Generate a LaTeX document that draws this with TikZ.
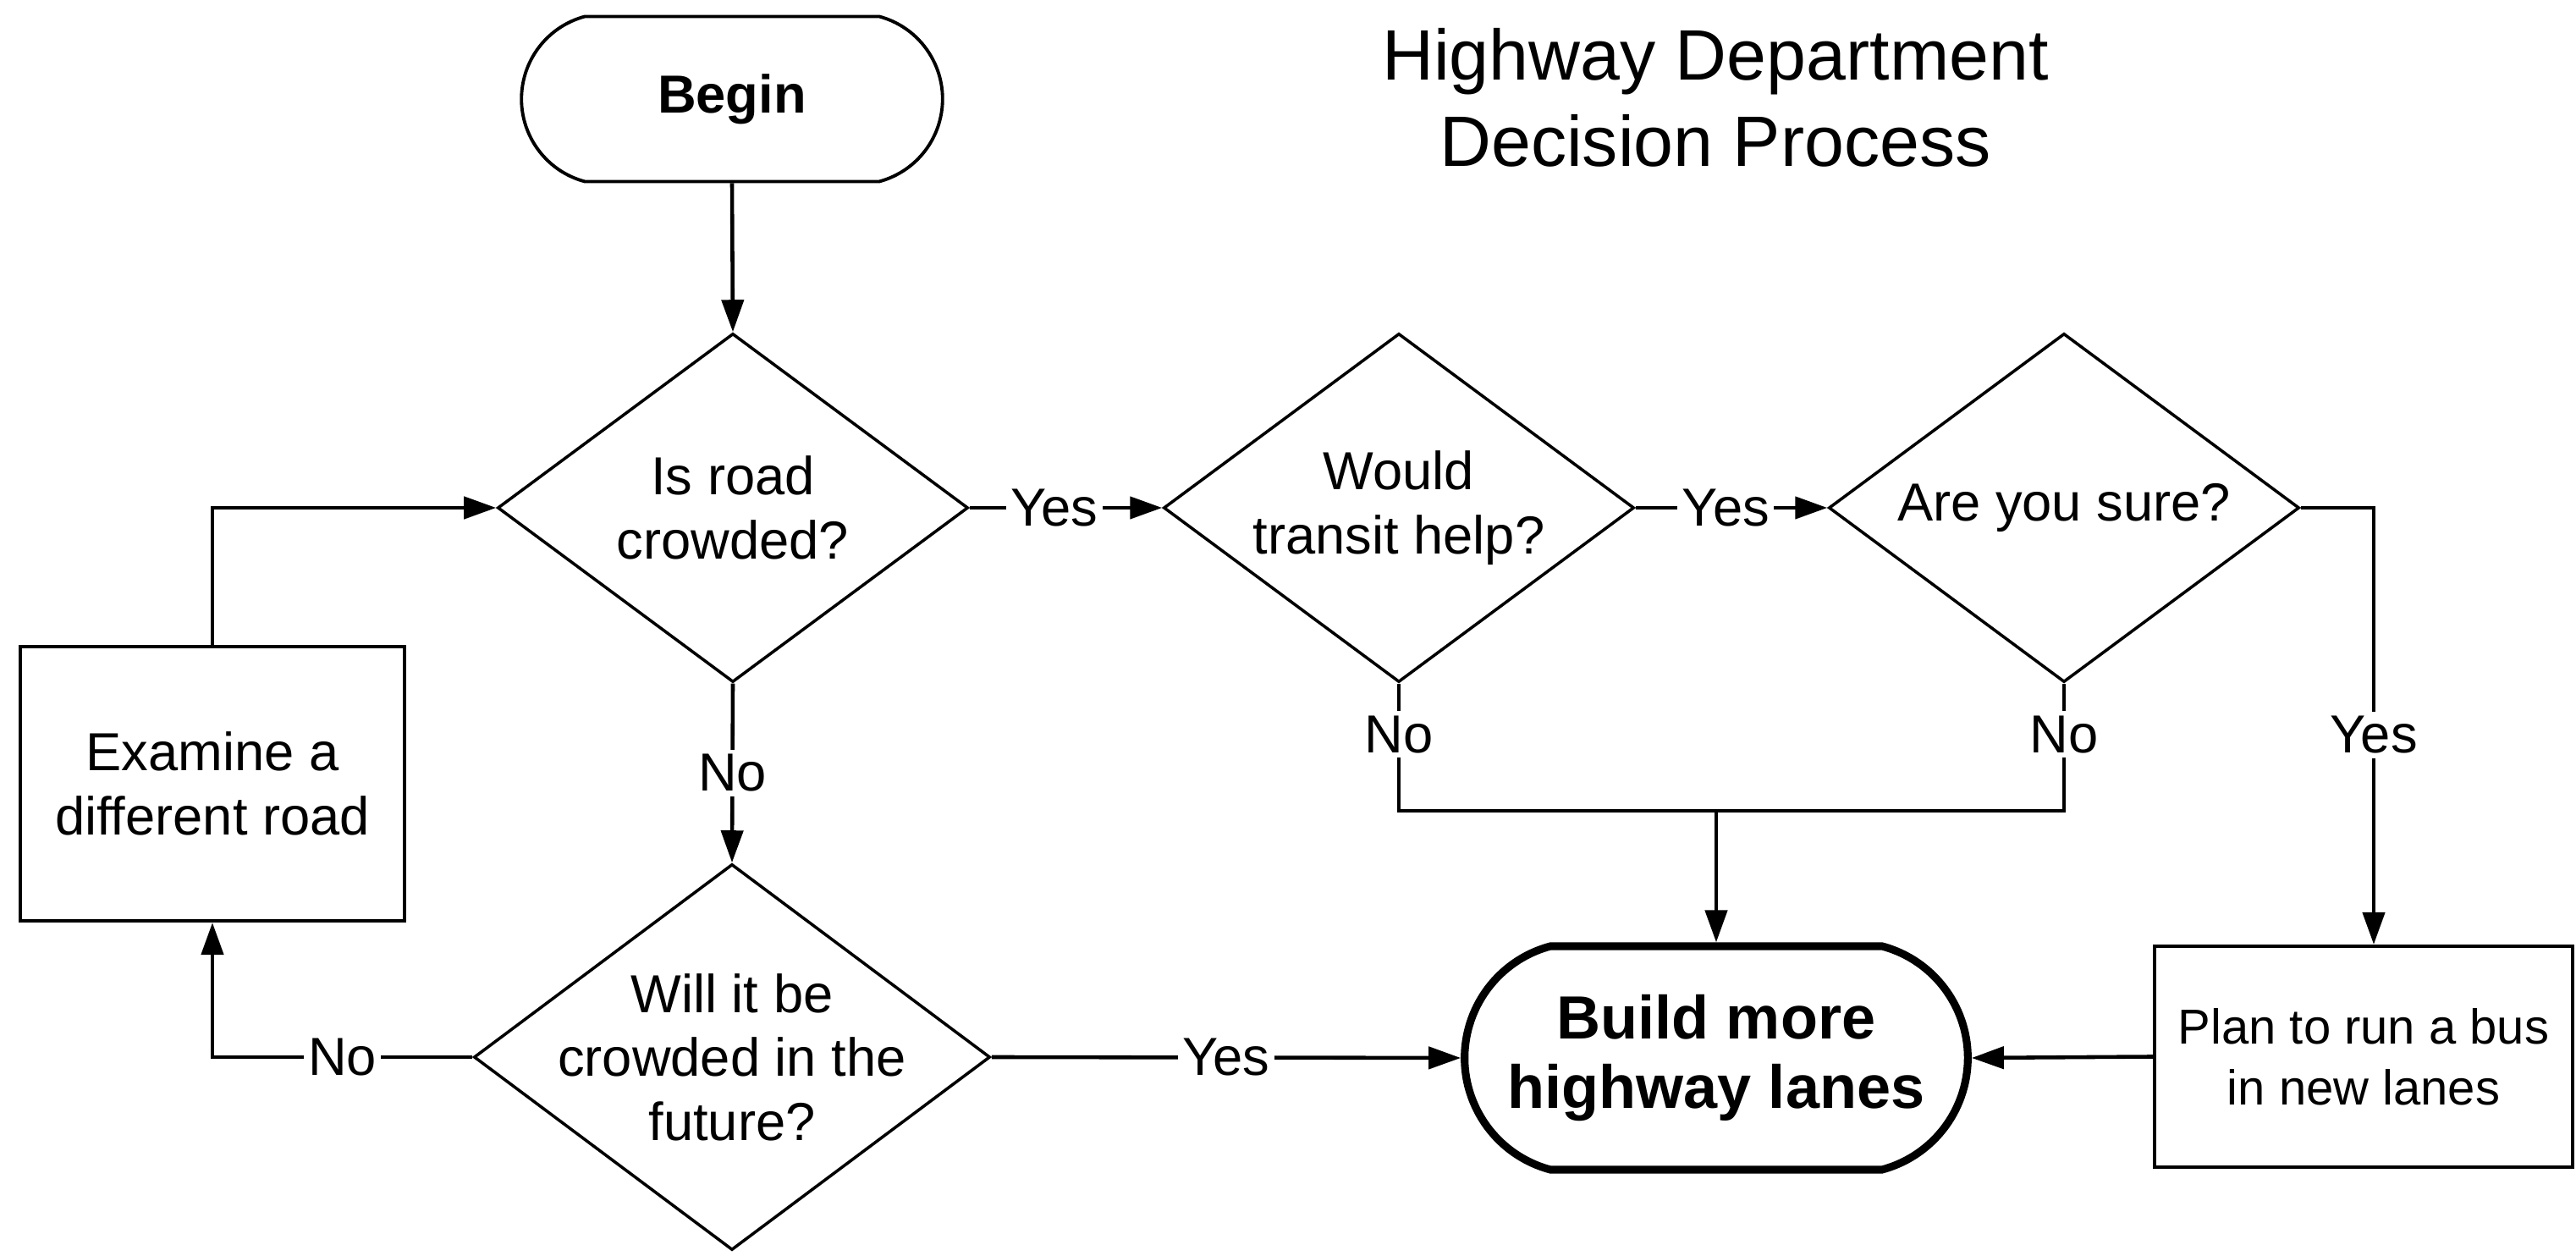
\documentclass[tikz,border=0pt]{standalone}
\usepackage{fontspec}
\setmainfont{Liberation Sans}
\usetikzlibrary{arrows.meta,shapes.geometric,shapes.misc}
\begin{document}
\begin{tikzpicture}[
  conn/.style={line width=1.3pt, draw=black},
  arr/.style={conn, -{Triangle[length=0.38cm,width=0.26cm]}},
  lbl/.style={fill=white, inner sep=1.5pt, font=\fontsize{18}{21}\selectfont},
  txt/.style={align=center, font=\fontsize{18}{21.5}\selectfont, inner sep=0pt},
  dia/.style={diamond, draw, line width=1pt, inner sep=0pt},
  box/.style={rectangle, draw, line width=1.2pt, align=center},
  term/.style={rounded rectangle, rounded rectangle arc length=150, draw, align=center}
]
\useasboundingbox[fill=white] (0,0) rectangle (30.44,14.84);

\node[term, line width=1.1pt, minimum width=5.21cm, minimum height=1.95cm,
      font=\bfseries\fontsize{18}{22}\selectfont] (begin) at (8.65,13.67) {Begin};
\node[align=center, font=\fontsize{24}{29}\selectfont, inner sep=0pt] (title)
      at (20.27,13.69) {Highway Department\\Decision Process};

\node[dia, minimum width=5.56cm, minimum height=4.12cm,
      label={[txt]center:Is road\\crowded?}] (d1) at (8.66,8.84) {};
\node[dia, minimum width=5.56cm, minimum height=4.12cm,
      label={[txt]center:Would\\transit help?}] (d2) at (16.53,8.84) {};
\node[dia, minimum width=5.56cm, minimum height=4.12cm,
      label={[txt]center:Are you sure?}] (d3) at (24.39,8.84) {};
\node[dia, minimum width=6.10cm, minimum height=4.56cm,
      label={[txt]center:Will it be\\crowded in the\\future?}] (d4) at (8.65,2.35) {};

\node[box, minimum width=4.54cm, minimum height=3.24cm,
      font=\fontsize{18}{21.5}\selectfont] (exam) at (2.51,5.58) {Examine a\\different road};
\node[term, line width=2.6pt, minimum width=6.18cm, minimum height=2.64cm,
      font=\bfseries\fontsize{20.5}{23.5}\selectfont] (build) at (20.28,2.34) {Build more\\highway lanes};
\node[box, minimum width=4.94cm, minimum height=2.61cm,
      font=\fontsize{16.5}{20.5}\selectfont] (plan) at (27.93,2.355) {Plan to run a bus\\in new lanes};

\coordinate (cY) at (28.05,8.84);
\coordinate (j) at (20.28,5.26);

\draw[arr] (begin.south) -- (d1.north);
\draw[arr] (d1.east) -- node[lbl,pos=0.44]{Yes} (d2.west);
\draw[arr] (d2.east) -- node[lbl,pos=0.47]{Yes} (d3.west);
\draw[arr] (d3.east) -- (cY) -- node[lbl,pos=0.52]{Yes} (cY |- plan.north);
\draw[arr] (d1.south) -- node[lbl]{No} (d4.north);
\draw[conn] (d2.south) -- node[lbl,pos=0.4]{No} (d2.south |- j) -- (d3.south |- j)
      -- node[lbl,pos=0.6]{No} (d3.south);
\draw[arr] (j) -- (build.north);
\draw[arr] (d4.east) -- node[lbl]{Yes} (build.west);
\draw[arr] (plan.west) -- (build.east);
\draw[arr] (d4.west) -- node[lbl]{No} (exam.south |- d4.west) -- (exam.south);
\draw[arr] (exam.north) |- (d1.west);
\end{tikzpicture}
\end{document}
